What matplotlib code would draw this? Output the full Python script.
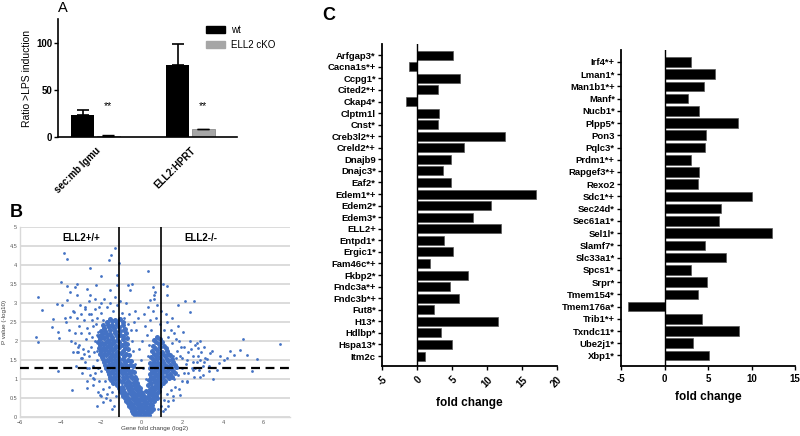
import matplotlib
matplotlib.use("Agg")
import matplotlib.pyplot as plt
from matplotlib.patches import Patch

plt.rcParams['font.family'] = ['Liberation Sans', 'DejaVu Sans']

# ---- panel A
a_groups = ['sec:mb Igmu', 'ELL2:HPRT']
a_wt = [23, 76]
a_wt_err = [6, 23]
a_ko = [1.5, 8]
a_ko_err = [0.3, 1]

# ---- panel B (volcano)
core_x = [-0.33, -0.12, 0.06, 0.22, 0.36,
          -0.48, -0.28, -0.08, 0.12, 0.29, 0.46,
          -0.62, -0.4, -0.21, 0.0, 0.17, 0.33, 0.52,
          -0.77, -0.56, -0.36, -0.14, 0.04, 0.23, 0.41, 0.6,
          -0.92, -0.71, -0.49, -0.3, -0.09, 0.13, 0.31, 0.51, 0.71,
          -1.06, -0.86, -0.64, -0.44, -0.24, -0.04, 0.22, 0.42, 0.62, 0.84,
          -1.21, -1.0, -0.79, -0.59, -0.39, -0.19, 0.3, 0.5, 0.7, 0.92,
          -1.5, -1.3, -1.1, -0.9, -0.7, -0.5, -0.3, 0.35, 0.55, 0.75, 0.95, 1.15, 1.35,
          -1.6, -1.4, -1.2, -1.0, -0.8, -0.6, -0.38, 0.38, 0.58, 0.78, 0.98, 1.18, 1.4, 1.62,
          -1.75, -1.55, -1.35, -1.15, -0.95, -0.75, -0.45, 0.4, 0.6, 0.8, 1.0, 1.2, 1.45, 1.7,
          -1.85, -1.65, -1.45, -1.25, -1.05, -0.85, -0.55, 0.42, 0.62, 0.82, 1.05, 1.3, 1.55,
          -1.95, -1.75, -1.55, -1.35, -1.15, -0.9, -0.62, 0.45, 0.68, 0.9, 1.15, 1.4,
          -2.0, -1.8, -1.6, -1.4, -1.2, -0.95, -0.68, 0.5, 0.75, 1.0, 1.25,
          -2.05, -1.85, -1.65, -1.45, -1.25, -1.0, -0.72, 0.55, 0.85, 1.1,
          -2.05, -1.85, -1.65, -1.45, -1.2, -0.95, -0.75, 0.6, 0.9,
          -1.95, -1.75, -1.55, -1.3, -1.05, -0.8,
          -1.85, -1.6, -1.35, -1.1, -0.85,
          -1.7, -1.45, -1.2, -0.95,
          # second pass, between the rows above
          -0.42, -0.22, -0.02, 0.16, 0.32,
          -0.55, -0.36, -0.17, 0.03, 0.21, 0.38, 0.55,
          -0.7, -0.5, -0.3, -0.1, 0.09, 0.28, 0.46,
          -0.85, -0.65, -0.45, -0.25, -0.03, 0.18, 0.36, 0.55, 0.74,
          -1.0, -0.8, -0.58, -0.38, -0.18, 0.03, 0.34, 0.55, 0.76,
          -1.13, -0.92, -0.7, -0.5, -0.3, -0.1, 0.4, 0.6, 0.82,
          -1.4, -1.2, -1.0, -0.8, -0.6, -0.4, -0.22, 0.45, 0.65, 0.85, 1.05,
          -1.55, -1.35, -1.15, -0.95, -0.75, -0.55, -0.35, 0.45, 0.65, 0.85, 1.05, 1.25, 1.5,
          -1.68, -1.48, -1.28, -1.08, -0.88, -0.68, -0.5, 0.48, 0.68, 0.88, 1.08, 1.3, 1.55,
          -1.8, -1.6, -1.4, -1.2, -1.0, -0.8, -0.6, 0.5, 0.7, 0.9, 1.12, 1.38, 1.62,
          -1.9, -1.7, -1.5, -1.3, -1.1, -0.92, -0.7, 0.55, 0.75, 0.98, 1.22, 1.48,
          -2.05, -1.85, -1.65, -1.45, -1.25, -1.02, -0.78, 0.58, 0.8, 1.05, 1.3,
          -2.1, -1.9, -1.7, -1.5, -1.3, -1.1, -0.85, 0.65, 0.92, 1.18,
          -2.15, -1.95, -1.75, -1.55, -1.35, -1.1, -0.85, 0.72, 1.0,
          -2.1, -1.9, -1.7, -1.45, -1.2, -0.95, 0.75,
          -2.0, -1.8, -1.55, -1.3, -1.05, -0.9,
          -1.9, -1.65, -1.45, -1.2, -0.95,
          -1.55, -1.3, -1.05]
core_y = [0.04, 0.06, 0.03, 0.07, 0.05,
          0.16, 0.13, 0.17, 0.14, 0.18, 0.15,
          0.29, 0.27, 0.31, 0.26, 0.3, 0.27, 0.31,
          0.43, 0.4, 0.44, 0.41, 0.45, 0.4, 0.44, 0.42,
          0.56, 0.53, 0.57, 0.54, 0.58, 0.55, 0.53, 0.57, 0.54,
          0.69, 0.66, 0.7, 0.67, 0.71, 0.67, 0.69, 0.66, 0.7, 0.68,
          0.83, 0.8, 0.84, 0.81, 0.85, 0.81, 0.83, 0.8, 0.84, 0.82,
          0.98, 1.01, 0.97, 1.0, 0.96, 1.02, 0.99, 0.97, 1.01, 0.98, 1.0, 0.96, 1.02,
          1.14, 1.17, 1.13, 1.16, 1.12, 1.15, 1.18, 1.13, 1.16, 1.12, 1.15, 1.18, 1.14, 1.17,
          1.29, 1.32, 1.28, 1.31, 1.27, 1.3, 1.33, 1.28, 1.31, 1.27, 1.3, 1.33, 1.29, 1.32,
          1.44, 1.47, 1.43, 1.46, 1.42, 1.45, 1.48, 1.43, 1.46, 1.42, 1.45, 1.48, 1.44,
          1.59, 1.62, 1.58, 1.61, 1.57, 1.6, 1.63, 1.58, 1.61, 1.57, 1.6, 1.63,
          1.74, 1.77, 1.73, 1.76, 1.72, 1.75, 1.78, 1.73, 1.76, 1.72, 1.75,
          1.89, 1.92, 1.88, 1.91, 1.87, 1.9, 1.93, 1.88, 1.91, 1.87,
          2.04, 2.07, 2.03, 2.06, 2.02, 2.05, 2.08, 2.03, 2.06,
          2.19, 2.22, 2.18, 2.21, 2.17, 2.2,
          2.34, 2.37, 2.33, 2.36, 2.32,
          2.49, 2.52, 2.48, 2.51,
          0.11, 0.1, 0.12, 0.1, 0.11,
          0.23, 0.22, 0.24, 0.22, 0.23, 0.24, 0.22,
          0.36, 0.35, 0.37, 0.35, 0.36, 0.37, 0.35,
          0.49, 0.48, 0.5, 0.48, 0.49, 0.5, 0.48, 0.49, 0.5,
          0.62, 0.61, 0.63, 0.61, 0.62, 0.63, 0.61, 0.62, 0.63,
          0.76, 0.75, 0.77, 0.75, 0.76, 0.77, 0.75, 0.76, 0.77,
          0.9, 0.89, 0.91, 0.89, 0.9, 0.91, 0.89, 0.9, 0.91, 0.89, 0.9,
          1.06, 1.05, 1.07, 1.05, 1.06, 1.07, 1.05, 1.06, 1.07, 1.05, 1.06, 1.07, 1.05,
          1.22, 1.21, 1.23, 1.21, 1.22, 1.23, 1.21, 1.22, 1.23, 1.21, 1.22, 1.23, 1.21,
          1.37, 1.36, 1.38, 1.36, 1.37, 1.38, 1.36, 1.37, 1.38, 1.36, 1.37, 1.38, 1.36,
          1.52, 1.51, 1.53, 1.51, 1.52, 1.53, 1.51, 1.52, 1.53, 1.51, 1.52, 1.53,
          1.67, 1.66, 1.68, 1.66, 1.67, 1.68, 1.66, 1.67, 1.68, 1.66, 1.67,
          1.82, 1.81, 1.83, 1.81, 1.82, 1.83, 1.81, 1.82, 1.83, 1.81,
          1.97, 1.96, 1.98, 1.96, 1.97, 1.98, 1.96, 1.97, 1.98,
          2.12, 2.11, 2.13, 2.11, 2.12, 2.13, 2.11,
          2.27, 2.26, 2.28, 2.26, 2.27, 2.28,
          2.42, 2.41, 2.43, 2.41, 2.42,
          2.57, 2.56, 2.58]

spread_x = [-2.2, -2.4, -2.6, -2.3, -2.5, -2.75, -2.9, -3.1, -2.2, -2.4, -2.6, -2.8, -3.0,
            -2.3, -2.55, -2.1, -1.9, -1.7, -1.55, -1.35, -1.25, -2.0, -2.3, -2.6, -2.85,
            -3.1, -3.3, -2.0, -1.7, -1.4, -1.2, -1.0, -0.9, -0.7, -0.55, -0.5, -0.45, -0.35,
            -2.15, -2.45, -1.9, -0.8, -1.05, -0.65, -0.4, -3.4, -3.5, -3.25, -2.95, -2.7,
            -2.4, -2.15, -1.6, -1.8, -1.45, -2.0, -1.9,
            -2.35, -2.65, -2.45, -2.7, -2.25, -2.5, -2.8, -3.0, -3.2, -3.0, -3.3, -3.6,
            -3.8, -3.4, -2.15, -2.35, -2.6, -2.85, -3.15, -2.1, -1.85, -1.55, -1.3, -2.3,
            -2.6, -1.75, -1.45, -1.6, -2.0, -2.2, -2.1, -2.2,
            1.6, 1.85, 2.1, 2.3, 2.5, 2.7, 2.2, 2.45, 2.0, 1.75, 1.5, 1.3, 1.1, 0.9, 0.7,
            0.55, 0.45, 1.25, 1.5, 1.8, 2.05, 2.35, 2.6, 2.9, 3.1, 2.8, 2.55, 2.3, 2.0, 1.8,
            1.65, 1.45, 1.25, 1.1, 0.95, 0.8, 0.35, 0.3, 0.25, 0.4, 3.3, 3.0, 2.75,
            1.6, 1.75, 1.9, 2.1, 2.25, 2.4, 1.95, 1.7, 1.45, 1.2, 0.95, 0.75, 0.6, 2.6,
            2.85, 3.05, 1.85, 1.55, 1.3, 1.15, 2.25, 2.5, 2.0, 1.55, 1.7,
            -0.3, 0.0, 0.15, -0.15, -0.2, 0.1, -0.05, 0.05, 0.2, -0.35, 0.3]
spread_y = [2.6, 2.4, 2.2, 2.0, 1.85, 2.05, 1.8, 1.9, 1.5, 1.35, 1.6, 1.45, 1.55,
            1.15, 1.1, 0.95, 0.75, 0.6, 0.45, 0.3, 0.55, 2.75, 2.85, 2.7, 2.55,
            2.4, 2.2, 3.0, 2.9, 2.8, 2.95, 2.75, 2.6, 2.45, 2.3, 2.0, 1.75, 1.4,
            2.25, 2.55, 2.55, 3.0, 3.05, 2.7, 2.5, 1.7, 2.0, 1.35, 1.15, 0.95,
            0.85, 0.65, 0.8, 0.95, 0.65, 1.2, 0.4,
            1.7, 1.75, 2.1, 2.35, 2.45, 2.7, 2.9, 2.7, 2.6, 2.2, 1.95, 2.3,
            2.6, 2.8, 1.3, 1.0, 1.3, 1.65, 1.7, 2.9, 3.1, 3.0, 3.15, 3.1,
            3.05, 0.5, 0.2, 1.0, 0.55, 1.75, 2.0, 2.15,
            2.2, 2.0, 1.85, 1.7, 1.6, 1.45, 1.4, 1.3, 1.55, 1.75, 1.95, 2.1, 2.3, 2.45, 2.6,
            2.8, 2.3, 2.5, 2.6, 2.4, 2.25, 2.0, 1.9, 1.7, 1.55, 1.25, 1.05, 1.15, 0.95, 1.1,
            0.8, 0.7, 0.6, 0.45, 0.3, 0.2, 1.9, 1.6, 2.15, 2.55, 1.35, 1.35, 1.6,
            1.0, 1.3, 1.6, 1.15, 1.5, 1.8, 1.85, 2.05, 2.3, 2.7, 2.8, 2.95, 3.1, 1.3,
            1.5, 1.85, 0.75, 0.45, 0.3, 0.2, 0.95, 1.45, 1.3, 1.6, 1.55,
            2.3, 2.0, 2.4, 1.8, 2.6, 2.7, 1.5, 1.3, 1.0, 2.8, 2.9]

outlier_x = [-1.33, -1.53, -1.6, -1.12, 0.31, 1.23, 1.04, 0.54, 0.58, 0.38, 0.66, 2.14,
             2.58, 1.76, 2.38, 1.23, 2.85, 2.7, 3.45, 3.37, 4.36, 4.82, 4.52, 5.18, 4.98,
             6.79, 5.67, 5.43, 4.2, 4.06, 3.78, 3.5, 3.29, 3.0, 2.88, 3.7, 3.87, 3.04,
             2.76, 3.2, 2.52, 2.22, 1.89, 1.56, 1.3, 1.04,
             -3.84, -3.7, -2.55, -2.02, -1.23, -4.0, -3.7, -3.18, -3.3, -2.27, -1.55,
             -1.2, -0.7, -0.5, -0.6, -5.1, -4.93, -5.1, -5.2, -4.36, -4.44, -4.11,
             -4.06, -4.11, -3.45, -2.71, -2.71, -3.2, -4.2, -3.95, -3.54, -3.7, -3.18,
             -3.04, -2.8, -3.34, -3.54, -3.73, -2.22, -2.06, -2.38, -2.96, -3.13,
             -2.68, -2.55]
outlier_y = [4.45, 4.27, 4.14, 4.05, 3.85, 3.46, 3.5, 3.41, 3.22, 3.08, 3.3, 3.06,
             3.06, 2.95, 2.76, 3.2, 2.0, 1.95, 1.75, 1.68, 1.75, 1.77, 1.64, 1.64, 2.04,
             1.91, 1.52, 1.2, 1.55, 1.49, 1.42, 1.0, 1.2, 1.1, 1.05, 1.25, 1.6, 1.45,
             1.82, 1.53, 1.25, 0.93, 0.58, 0.54, 0.41, 0.15,
             4.31, 4.15, 3.91, 3.72, 3.75, 3.54, 3.45, 3.49, 3.42, 3.47, 3.33,
             3.47, 3.47, 3.5, 3.35, 3.16, 2.81, 1.98, 2.1, 2.59, 2.37, 2.24,
             2.07, 1.2, 0.71, 0.76, 1.28, 1.72, 2.98, 2.94, 3.29, 3.07, 3.2,
             2.94, 2.85, 2.77, 2.64, 2.5, 0.28, 0.59, 1.03, 1.55, 1.85,
             3.38, 3.2]

fc_cut = [-1.1, 0.95]
p_cut = 1.3

# ---- panel C
genes_left = ['Arfgap3*', 'Cacna1s*+', 'Ccpg1*', 'Cited2*+', 'Ckap4*', 'Clptm1l', 'Cnst*',
              'Creb3l2*+', 'Creld2*+', 'Dnajb9', 'Dnajc3*', 'Eaf2*', 'Edem1*+', 'Edem2*',
              'Edem3*', 'ELL2+', 'Entpd1*', 'Ergic1*', 'Fam46c*+', 'Fkbp2*', 'Fndc3a*+',
              'Fndc3b*+', 'Fut8*', 'H13*', 'Hdlbp*', 'Hspa13*', 'Itm2c']
fold_left = [5.1, -1.1, 6.1, 2.95, -1.6, 3.2, 2.95, 12.5, 6.7, 4.9, 3.7, 4.9, 17.0, 10.5,
             8.0, 12.0, 3.9, 5.2, 1.8, 7.3, 4.7, 6.0, 2.4, 11.5, 3.4, 5.0, 1.2]

genes_right = ['Irf4*+', 'Lman1*', 'Man1b1*+', 'Manf*', 'Nucb1*', 'Plpp5*', 'Pon3', 'Pqlc3*',
               'Prdm1*+', 'Rapgef3*+', 'Rexo2', 'Sdc1*+', 'Sec24d*', 'Sec61a1*', 'Sel1l*',
               'Slamf7*', 'Slc33a1*', 'Spcs1*', 'Srpr*', 'Tmem154*', 'Tmem176a*', 'Trib1*+',
               'Txndc11*', 'Ube2j1*', 'Xbp1*']
fold_right = [3.0, 5.75, 4.5, 2.75, 4.0, 8.5, 4.8, 4.7, 3.0, 3.95, 3.9, 10.0, 6.45, 6.25,
              12.3, 4.6, 7.1, 3.1, 4.85, 3.8, -4.15, 4.3, 8.6, 3.3, 5.1]

W, H = 800, 436


def box(l, t, r, b):
    return [l / W, 1 - b / H, (r - l) / W, (b - t) / H]


fig = plt.figure(figsize=(8, 4.36), dpi=100)

# ================= A
ax = fig.add_axes(box(58, 19, 237, 137))
xs = [0, 1]
off = 0.135
ax.bar([x - off for x in xs], a_wt, width=0.24, color='black')
ax.bar([x + off for x in xs], a_ko, width=0.24, color='#a6a6a6', edgecolor='#8c8c8c', lw=0.6)
ax.errorbar([x - off for x in xs], a_wt, yerr=[[0, 0], a_wt_err], fmt='none',
            ecolor='black', elinewidth=1.2, capsize=4, capthick=1.2)
ax.errorbar([x + off for x in xs], a_ko, yerr=[[0, 0], a_ko_err], fmt='none',
            ecolor='black', elinewidth=1.0, capsize=4, capthick=1.0)
for x in xs:
    ax.text(x + off, 33, '**', ha='center', va='center', fontsize=7.5)
ax.set_xlim(-0.395, 1.49)
ax.set_ylim(0, 125)
ax.set_yticks([0, 50, 100])
ax.set_xticks(xs)
ax.set_xticklabels(a_groups, rotation=45, ha='right', rotation_mode='anchor',
                   fontsize=7, fontweight='bold')
for lab in ax.get_yticklabels():
    lab.set_fontweight('bold')
ax.tick_params(axis='y', labelsize=7, length=3, width=1, pad=1)
ax.tick_params(axis='x', length=0, pad=6)
ax.set_ylabel('Ratio >LPS induction', fontsize=7.5, labelpad=3)
for s in ['top', 'right']:
    ax.spines[s].set_visible(False)
for s in ['left', 'bottom']:
    ax.spines[s].set_linewidth(1.2)
fig.legend([Patch(color='black'), Patch(color='#a6a6a6')], ['wt', 'ELL2 cKO'],
           loc='upper left', bbox_to_anchor=(202 / W, 1 - 21 / H), frameon=False,
           fontsize=7, handlelength=2.0, handleheight=0.8, labelspacing=0.5,
           borderaxespad=0, handletextpad=0.6)
fig.text(58 / W, 1 - 8 / H, 'A', fontsize=10.5, va='center', ha='left')

# ================= B
ax = fig.add_axes(box(20, 227, 290, 417))
ax.yaxis.grid(True, color='#d9d9d9', lw=1.3)
ax.set_axisbelow(True)
blue = '#4472C4'
ax.scatter(core_x, core_y, s=13, color=blue, lw=0, zorder=2)
ax.scatter(spread_x, spread_y, s=4, color=blue, lw=0, zorder=2)
ax.scatter(outlier_x, outlier_y, s=4, color=blue, lw=0, zorder=2)
for c in fc_cut:
    ax.axvline(c, color='black', lw=1.2, zorder=3)
ax.axhline(p_cut, color='black', lw=1.6, ls=(0, (4, 2.5)), zorder=3)
ax.set_xlim(-6, 7.3)
ax.set_ylim(0, 5)
ax.set_xticks(range(-6, 7, 2))
ax.set_yticks([0, 0.5, 1, 1.5, 2, 2.5, 3, 3.5, 4, 4.5, 5])
ax.set_yticklabels(['0', '0.5', '1', '1.5', '2', '2.5', '3', '3.5', '4', '4.5', '5'])
ax.tick_params(labelsize=4, colors='#595959', length=0, pad=2)
for s in ['top', 'right']:
    ax.spines[s].set_visible(False)
for s in ['left', 'bottom']:
    ax.spines[s].set_color('#d9d9d9')
    ax.spines[s].set_linewidth(1.0)
ax.set_xlabel('Gene fold change (log2)', fontsize=4.5, color='#404040', labelpad=1)
ax.set_ylabel('P value (-log10)', fontsize=4.5, color='#404040', labelpad=2)
ax.text(-3.9, 4.7, 'ELL2+/+', fontsize=7, fontweight='bold', va='center')
ax.text(2.1, 4.7, 'ELL2-/-', fontsize=7, fontweight='bold', va='center')
fig.text(10 / W, 1 - 212 / H, 'B', fontsize=13, fontweight='bold', va='center')


# ================= C
def fold_panel(rect, genes, vals, xmax, rot):
    ax = fig.add_axes(rect)
    pos = list(range(len(genes)))
    ax.barh(pos, vals, height=0.78, color='black', edgecolor='#555555', lw=0.5)
    ax.axvline(0, color='black', lw=1.0)
    ax.set_xlim(-5, xmax)
    ax.set_ylim(len(genes) - 0.14, -0.97)
    ax.set_yticks(pos)
    ax.set_yticklabels(genes, fontsize=6.8, fontweight='bold')
    ax.set_xticks(range(-5, xmax + 1, 5))
    if rot:
        ax.set_xticklabels([str(v) for v in range(-5, xmax + 1, 5)], rotation=45,
                           ha='right', rotation_mode='anchor', fontsize=7, fontweight='bold')
    else:
        ax.set_xticklabels([str(v) for v in range(-5, xmax + 1, 5)],
                           fontsize=7, fontweight='bold')
    ax.tick_params(length=3, width=1, pad=1.5)
    ax.tick_params(axis='x', pad=3)
    for s in ['top', 'right']:
        ax.spines[s].set_visible(False)
    for s in ['left', 'bottom']:
        ax.spines[s].set_linewidth(1.3)
    ax.set_xlabel('fold change', fontsize=8.5, fontweight='bold', labelpad=6 if rot else 5)
    return ax


fold_panel(box(382, 44, 557, 366), genes_left, fold_left, 20, True)
fold_panel(box(621, 50, 795, 366), genes_right, fold_right, 15, False)
fig.text(322 / W, 1 - 15 / H, 'C', fontsize=13, fontweight='bold', va='center')

fig.savefig('out.png', dpi=100)
